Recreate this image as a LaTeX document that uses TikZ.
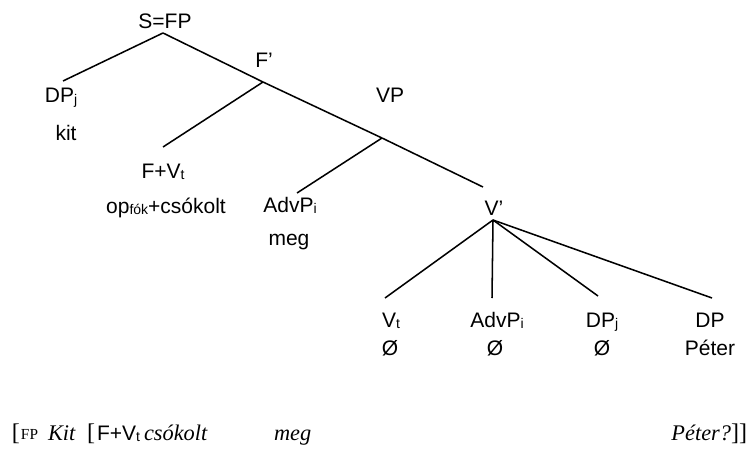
\documentclass[tikz,border=0pt]{standalone}
\usepackage{fontspec}
\setmainfont{Liberation Sans}
\newfontfamily\glossfont{Liberation Serif}
% small lowered index on a category label
\newcommand{\lo}[1]{\raisebox{-1.2pt}{\fontsize{10.5}{12}\selectfont #1}}
\begin{document}
\begin{tikzpicture}[x=0.75pt,y=-0.75pt]
	\tikzstyle{cat} = [inner sep=0, outer sep=0, anchor=base, font=\fontsize{15.75}{18}\selectfont]
	\tikzstyle{gloss} = [inner sep=0, outer sep=0, anchor=base west, font=\glossfont\fontsize{16.75}{18}\selectfont\itshape]
	\tikzstyle{brk} = [inner sep=0, outer sep=0, anchor=base west, font=\glossfont\fontsize{18}{18}\selectfont]
	\tikzstyle{branch} = [line width=1.15pt]
\useasboundingbox (0,0) rectangle (748,449);
% branch points
\coordinate (t1) at (163,33);
\coordinate (t2) at (63,81);
\coordinate (t3) at (263,82);
\coordinate (t4) at (163,147);
\coordinate (t5) at (382,138);
\coordinate (t6) at (297,193);
\coordinate (t7) at (483,187);
\coordinate (t8) at (493,220);
\coordinate (t9) at (385,298);
\coordinate (t10) at (492,298);
\coordinate (t11) at (598,296);
\coordinate (t12) at (712,298);
\node [cat] (fp) at (165,29) {S=FP};
\node [cat] (fbar) at (264,68) {F’};
\node [cat] (dpj) at (61,103) {DP\lo{j}};
\node [cat] (kit) at (66,140) {kit};
\node [cat] (vp) at (390,103) {VP};
\node [cat] (fv) at (163,178) {F+V\lo{t}};
\node [cat] (opf) at (166,213) {op\lo{fók}+csókolt};
\node [cat] (adv) at (290,212) {AdvP\lo{i}};
\node [cat] (meg) at (289,245) {meg};
\node [cat] (vbar) at (494,215) {V’};
\node [cat] (vt) at (391,327) {V\lo{t}};
\node [cat] (e1) at (390,355) {Ø};
\node [cat] (adv2) at (497,327) {AdvP\lo{i}};
\node [cat] (e2) at (495,355) {Ø};
\node [cat] (dpj2) at (602,327) {DP\lo{j}};
\node [cat] (e3) at (602,355) {Ø};
\node [cat] (dp) at (710,327) {DP};
\node [cat] (peter) at (710,355) {Péter};
\draw [branch] (t1) edge (t2);
\draw [branch] (t1) edge (t3);
\draw [branch] (t3) edge (t4);
\draw [branch] (t3) edge (t5);
\draw [branch] (t5) edge (t6);
\draw [branch] (t5) edge (t7);
\draw [branch] (t8) edge (t9);
\draw [branch] (t8) edge (t10);
\draw [branch] (t8) edge (t11);
\draw [branch] (t8) edge (t12);

% bracketed sentence
\node [brk] (b1) at (12,440) {[};
\node [brk, font=\glossfont\fontsize{11.5}{12}\selectfont] (b2) at (21,439) {FP};
\node [gloss] (b3) at (48,440) {Kit};
\node [brk] (b4) at (87,440) {[};
\node [cat, anchor=base west] (b5) at (97,440) {F+V\lo{t}};
\node [gloss] (b6) at (144,440) {csókolt};
\node [gloss] (b7) at (274,440) {meg};
\node [brk, anchor=base east] (b8) at (747,440) {{\itshape\fontsize{16.75}{18}\selectfont Péter?}]]};
\end{tikzpicture}
\end{document}
